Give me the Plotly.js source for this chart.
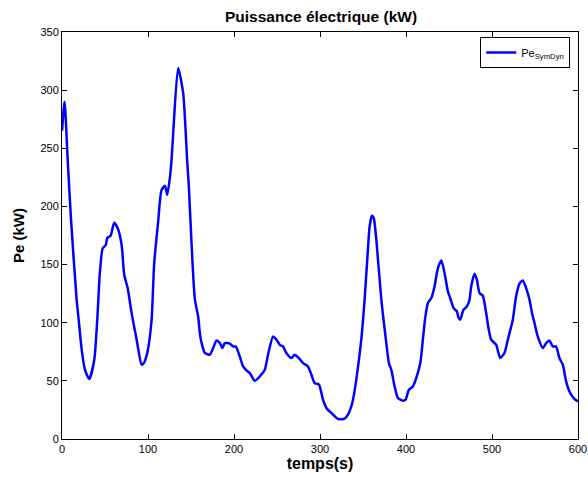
<!DOCTYPE html>
<html>
<head>
<meta charset="utf-8">
<script src="https://cdn.plot.ly/plotly-3.0.1.min.js"></script>
<style>html,body{margin:0;padding:0;background:#fff}#chart{width:588px;height:478px}</style>
</head>
<body>
<div id="chart"></div>
<script>
const temps = [0,3,6.6,10.5,17,19.4,22.9,26.7,31.7,37.5,41,44,47.3,51,52.6,56.5,60.7,65.4,69.3,72.4,76.3,81,86.8,92.6,95.2,99.5,104.2,107.2,111.8,115.7,119.7,122.3,125.4,127.4,129.3,135,140.9,145.5,147.5,150.6,154.5,158.3,160.3,162.3,166.1,171.9,175,179.7,183.5,186.6,189.3,195.1,199,202,206.7,210.6,214.5,218.4,224.2,230,235.8,239.6,245.4,249.4,253.2,257,260.9,266.8,270.6,275.3,280.3,286,290,293.8,298.8,303.5,307.4,313.2,320.9,328.7,332.5,336.4,338.4,342.2,348,351.9,355.7,357.7,360.4,362.5,365.5,371.3,377.1,380.1,382.9,386.8,390.6,396.4,399.5,403.4,408,411.9,416.6,419.6,422.5,425.5,429.4,433.2,435.9,438.5,441.2,444.8,448.7,451.4,455.3,459.1,461,463,466.9,470.8,473.9,475.8,479.7,482.4,485.5,489.3,493.2,496,499,504.9,509.5,514.5,518.4,524.2,528,531.9,535.8,539.7,543.6,546.6,549.4,553.2,559,563,566.8,570.6,574.5,578.4,582.3,586.2,590,595.9,600];
const pe = [265,290,240,188.6,120,102.6,76.8,59.6,51.6,68,102.6,142.7,164,167,172.8,174.8,186,180,167,141,130,108,85.4,63.9,65.3,75.3,102.6,151,187,214,217.8,210,224.4,240,263,319,297.5,240,217,168.5,120,105.4,91,82.5,74,72.5,76.8,84.8,82.5,78.2,82.5,82,79.6,79.6,71,62.4,59,56.7,50,53.8,59.6,72.5,88.2,85.4,81,79.6,74,69.6,72.5,69.6,65.3,62.4,55.3,48.1,46.7,33.8,26.7,22.4,17.2,17.5,20.9,28,33.8,51,85.4,120,162.8,182.8,192,190,171.4,120,82.5,65.3,59.6,45.2,35.3,33,33.8,42.4,45.2,52.4,65.3,85.4,105,117,121.2,131.2,142.7,150,153.6,142.7,126.9,121.2,112.6,109.7,104.5,102.6,111.2,114,119.8,131.2,142.1,137,125.5,123.2,108.3,95,85.4,81,69.6,74,85.4,102.6,122.6,133.5,136.4,129.8,119.8,108,99.7,88.2,78.2,82.5,84.8,79.6,79.6,69.6,63.9,49.5,40.9,34.4,32.3];
const xTicks = [0,100,200,300,400,500,600];
const yTicks = [0,50,100,150,200,250,300,350];

const font = 'Liberation Sans, Arial, sans-serif';
const axisCommon = {
  showline: true, linecolor: '#000', linewidth: 1, mirror: 'ticks',
  ticks: 'inside', ticklen: 5, tickcolor: '#000', tickwidth: 1,
  showgrid: false, zeroline: false,
  tickfont: {family: font, size: 11, color: '#000'}
};
Plotly.newPlot('chart', [{
  x: temps, y: pe, type: 'scatter', mode: 'lines',
  name: 'Pe<sub>SymDyn</sub>',
  line: {color: '#0000ff', width: 2.5, shape: 'spline', smoothing: 0.6}
}], {
  width: 588, height: 478,
  margin: {l: 62, r: 10, t: 32, b: 39},
  paper_bgcolor: '#fff', plot_bgcolor: '#fff',
  title: {text: '<b>Puissance électrique (kW)</b>', x: 0.546, xanchor: 'center', y: 0.965, yanchor: 'middle',
          font: {family: font, size: 15.5, color: '#000'}},
  xaxis: Object.assign({}, axisCommon, {range: [0, 600], tickvals: xTicks, ticktext: xTicks.map(String),
    title: {text: '<b>temps(s)</b>', standoff: 3, font: {family: font, size: 16, color: '#000'}}}),
  yaxis: Object.assign({}, axisCommon, {range: [0, 350], tickvals: yTicks, ticktext: yTicks.map(String),
    title: {text: '<b>Pe (kW)</b>', standoff: 12, font: {family: font, size: 15, color: '#000'}}}),
  showlegend: true,
  legend: {x: 0.985, y: 0.988, xanchor: 'right', yanchor: 'top', bordercolor: '#000', borderwidth: 1,
           bgcolor: '#fff', font: {family: font, size: 11, color: '#000'}, itemwidth: 30, tracegroupgap: 0}
}, {staticPlot: true});
</script>
</body>
</html>
